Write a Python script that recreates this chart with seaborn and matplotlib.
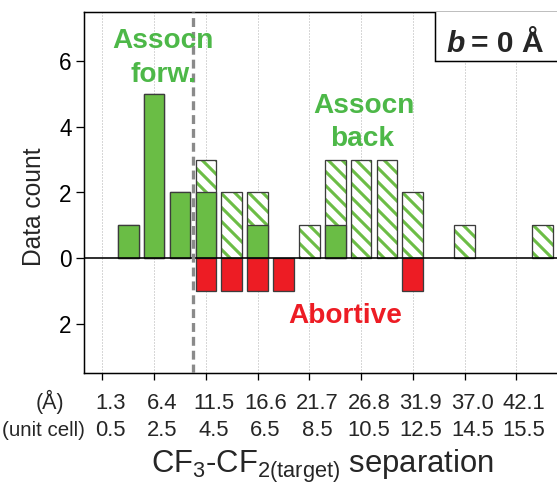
import matplotlib
matplotlib.use("Agg")
import matplotlib.pyplot as plt
import seaborn as sns
import pandas as pd
from matplotlib.patches import Rectangle
from matplotlib.transforms import blended_transform_factory

# ---------------- data ----------------
bins = list(range(1, 18))
forward = [1, 5, 2, 2, 0, 1, 0, 0, 1, 0, 0, 0, 0, 0, 0, 0, 0]
backward = [0, 0, 0, 1, 2, 1, 0, 1, 2, 3, 3, 2, 0, 1, 0, 0, 1]
abortive = [0, 0, 0, 1, 1, 1, 1, 0, 0, 0, 0, 1, 0, 0, 0, 0, 0]
tick_pos = [0, 2, 4, 6, 8, 10, 12, 14, 16]
tick_angstrom = ["1.3", "6.4", "11.5", "16.6", "21.7", "26.8", "31.9", "37.0", "42.1"]
tick_unitcell = ["0.5", "2.5", "4.5", "6.5", "8.5", "10.5", "12.5", "14.5", "15.5"]
y_ticks = [-2, 0, 2, 4, 6]
y_ticklabels = ["2", "0", "2", "4", "6"]
cutoff = 3.5

# ---------------- style ----------------
DPI = 84
W, H = 557, 494
P = 72.0 / DPI  # px -> pt


def fs(px):
    return px * P


sns.set_theme(style="ticks")
plt.rcParams["font.family"] = ["Liberation Sans", "DejaVu Sans"]
plt.rcParams["mathtext.fontset"] = "custom"
plt.rcParams["mathtext.rm"] = "Liberation Sans"
plt.rcParams["mathtext.it"] = "Liberation Sans:italic"
plt.rcParams["mathtext.bf"] = "Liberation Sans:bold"
plt.rcParams["hatch.linewidth"] = fs(3.1)

GREEN = "#6abd45"
HATCH_GREEN = "#6cbd46"
TEXT_GREEN = "#4db848"
RED = "#ed1c24"
EDGE = "#3c3c3c"
LW = fs(1.3)

df = pd.DataFrame({"bin": bins, "forward": forward, "backward": backward,
                   "abortive": abortive})
df["total"] = df["forward"] + df["backward"]
df["neg"] = -df["abortive"]

fig = plt.figure(figsize=(W / DPI, H / DPI), dpi=DPI)
ax = fig.add_axes([84.3 / W, 1 - 372.7 / H, (560.3 - 84.3) / W, (372.7 - 12.3) / H])

tot = df[df["total"] > 0]
fw = df[df["forward"] > 0]
ab = df[df["abortive"] > 0]

# hatched (backward) layer: full stack height
sns.barplot(data=tot, x="bin", y="total", native_scale=True, width=0.8,
            color="white", saturation=1, edgecolor=HATCH_GREEN, linewidth=0,
            hatch="\\\\", errorbar=None, ax=ax, zorder=2)
# outline of the stacks
sns.barplot(data=tot, x="bin", y="total", native_scale=True, width=0.8,
            fill=False, color=EDGE, linewidth=LW, errorbar=None, ax=ax,
            zorder=2.5)
# solid (forward) layer
sns.barplot(data=fw, x="bin", y="forward", native_scale=True, width=0.8,
            color=GREEN, saturation=1, edgecolor=EDGE, linewidth=LW,
            errorbar=None, ax=ax, zorder=3)
# abortive (negative)
sns.barplot(data=ab, x="bin", y="neg", native_scale=True, width=0.8,
            color=RED, saturation=1, edgecolor=EDGE, linewidth=LW,
            errorbar=None, ax=ax, zorder=3)

ax.set_xlim(-0.7, 17.7)
ax.set_ylim(-3.5, 7.5)
ax.set_xlabel("")
ax.set_ylabel("")

# grid, zero line, cutoff
for t in tick_pos:
    ax.axvline(t, color="#b0b0b0", lw=fs(1.0), ls=(0, (1, 2)), zorder=0.5)
ax.axhline(0, color="black", lw=fs(1.6), zorder=4)
ax.axvline(cutoff, color="#8a8a8a", lw=fs(3.3), ls=(0, (2.7, 1.5)), zorder=5)

# ticks
ax.set_xticks(tick_pos)
ax.set_xticklabels([""] * len(tick_pos))
ax.set_yticks(y_ticks)
ax.set_yticklabels(y_ticklabels)
ax.tick_params(axis="x", bottom=True, length=fs(7), width=fs(1.3),
               direction="out", color="black")
ax.tick_params(axis="y", left=True, length=fs(7.6), width=fs(1.3),
               direction="out", pad=fs(5), labelsize=fs(22.5), color="black",
               labelcolor="black")
for side in ["left", "top", "bottom"]:
    ax.spines[side].set_visible(True)
    ax.spines[side].set_linewidth(fs(1.5))
    ax.spines[side].set_color("black")
ax.spines["right"].set_visible(False)

# two-row x tick labels
tr = blended_transform_factory(ax.transData, fig.transFigure)
for x, a, u in zip(tick_pos, tick_angstrom, tick_unitcell):
    ax.text(x + 0.3, 1 - 409.3 / H, a, transform=tr, ha="center",
            va="baseline", fontsize=fs(22), clip_on=False)
    ax.text(x + 0.3, 1 - 436 / H, u, transform=tr, ha="center",
            va="baseline", fontsize=fs(22), clip_on=False)
fig.text(49.7 / W, 1 - 409.3 / H, "(Å)", ha="center", va="baseline",
         fontsize=fs(21.5))
fig.text(43.5 / W, 1 - 436 / H, "(unit cell)", ha="center", va="baseline",
         fontsize=fs(20.5))

# axis titles
fig.text(322.5 / W, 1 - 473.3 / H,
         r"CF$_3$-CF$_{2\mathrm{(target)}}$ separation",
         ha="center", va="baseline", fontsize=fs(31))
fig.text(34 / W, 1 - 207 / H, "Data count", rotation=90, ha="center",
         va="center", fontsize=fs(24.5))

# annotations
lab = dict(fontsize=fs(28), fontweight="bold", ha="center", va="baseline",
           zorder=6)
ax.text(2.36, 6.40, "Assocn", color=TEXT_GREEN, **lab)
ax.text(2.38, 5.38, "forw.", color=TEXT_GREEN, **lab)
ax.text(10.11, 4.42, "Assocn", color=TEXT_GREEN, **lab)
ax.text(10.05, 3.43, "back", color=TEXT_GREEN, **lab)
ax.text(9.38, -1.99, "Abortive", color=RED, **lab)

# b = 0 Å box
ax.add_patch(Rectangle((12.86, 6.02), 8, 2, facecolor="white",
                       edgecolor="black", lw=fs(1.5), zorder=6))
ax.text(13.31, 6.30, "b", fontsize=fs(30), fontweight="bold",
        fontstyle="italic", ha="left", va="baseline", zorder=7)
ax.text(14.25, 6.30, "= 0 Å", fontsize=fs(30), fontweight="bold",
        ha="left", va="baseline", zorder=7)

fig.savefig("out.png", dpi=DPI, facecolor="white")
